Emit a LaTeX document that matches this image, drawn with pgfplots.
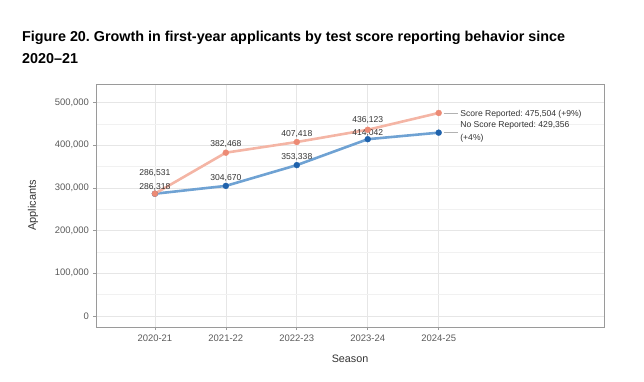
\documentclass[border=0pt]{standalone}
\usepackage{fontspec}
\setmainfont{Liberation Sans}
\usepackage{pgfplots}
\pgfplotsset{compat=1.18}
\definecolor{salmonL}{HTML}{F4B5A5}
\definecolor{salmonD}{HTML}{EC8A74}
\definecolor{blueL}{HTML}{6FA2D3}
\definecolor{blueD}{HTML}{1F62AC}
\definecolor{labtxt}{HTML}{333333}
\definecolor{ticktxt}{HTML}{5A5A5A}
\definecolor{gridmaj}{HTML}{E6E6E6}
\definecolor{gridmin}{HTML}{F1F1F1}
\definecolor{axline}{HTML}{9A9A9A}
\frenchspacing
\begin{document}
\begin{tikzpicture}
\path[use as bounding box] (0bp,0bp) rectangle (644bp,382bp);
\node[anchor=north west, align=left, inner sep=0pt, font=\bfseries\fontsize{14.4}{22}\selectfont] at (22bp,351.5bp)
  {Figure 20. Growth in first-year applicants by test score reporting behavior since\\2020–21};
\begin{axis}[
  at={(96bp,55bp)}, anchor=south west, scale only axis,
  width=508bp, height=243bp,
  xmin=-0.83, xmax=6.33, ymin=-25800, ymax=543300,
  xtick={0,1,2,3,4},
  xticklabels={2020-21,2021-22,2022-23,2023-24,2024-25},
  ytick={0,100000,200000,300000,400000,500000},
  minor ytick={50000,150000,250000,350000,450000,-50000},
  scaled y ticks=false,
  yticklabel={\pgfmathprintnumber[assume math mode=true,1000 sep={,},fixed]{\tick}},
  xmajorgrids, ymajorgrids, yminorgrids,
  major grid style={gridmaj, line width=0.6bp},
  minor grid style={gridmin, line width=0.5bp},
  axis line style={axline, line width=0.7bp},
  tick align=outside, xtick pos=bottom, ytick pos=left,
  major tick length=3bp, minor tick length=0pt,
  every tick/.style={axline, line width=0.6bp},
  tick label style={font=\fontsize{9.5}{11}\selectfont, text=ticktxt},
  xticklabel style={yshift=-1bp},
  yticklabel style={xshift=-0.5bp},
  clip=false,
]
\addplot[blueL, line width=2.6bp, mark=*, mark size=3bp, mark options={fill=blueD, draw=blueD, line width=0.3bp}]
  coordinates {(0,286318) (1,304670) (2,353338) (3,414042) (4,429356)};
\addplot[salmonL, line width=2.6bp, mark=*, mark size=3bp, mark options={fill=salmonD, draw=salmonD, line width=0.3bp}]
  coordinates {(0,286531) (1,382468) (2,407418) (3,436123) (4,475504)};
\tikzset{lab/.style={font=\fontsize{8.6}{10}\selectfont, text=labtxt, inner sep=0pt}}
\node[lab, yshift=21bp] at (axis cs:0,286531) {286,531};
\node[lab, yshift=7bp] at (axis cs:0,286318) {286,318};
\node[lab, yshift=9bp] at (axis cs:1,382468) {382,468};
\node[lab, yshift=8bp] at (axis cs:1,304670) {304,670};
\node[lab, yshift=8bp] at (axis cs:2,407418) {407,418};
\node[lab, yshift=8bp] at (axis cs:2,353338) {353,338};
\node[lab, yshift=10bp] at (axis cs:3,436123) {436,123};
\node[lab, yshift=6bp] at (axis cs:3,414042) {414,042};
\draw[gray!60, line width=0.5bp] ([xshift=5bp]axis cs:4,475504) -- ([xshift=19bp]axis cs:4,475504);
\draw[gray!60, line width=0.5bp] ([xshift=5bp]axis cs:4,429356) -- ([xshift=19bp]axis cs:4,429356);
\node[lab, anchor=west, yshift=-1bp, xshift=21.5bp] at (axis cs:4,475504) {Score Reported: 475,504 (+9\%)};
\node[lab, anchor=west, align=left, xshift=21.5bp, font=\fontsize{8.6}{13}\selectfont] at ([yshift=1bp]axis cs:4,429356) {No Score Reported: 429,356\\(+4\%)};
\end{axis}
\node[font=\fontsize{11}{13}\selectfont, text=labtxt, rotate=90] at (33bp,176.5bp) {Applicants};
\node[font=\fontsize{10.8}{13}\selectfont, text=labtxt] at (350bp,23bp) {Season};
\end{tikzpicture}
\end{document}
